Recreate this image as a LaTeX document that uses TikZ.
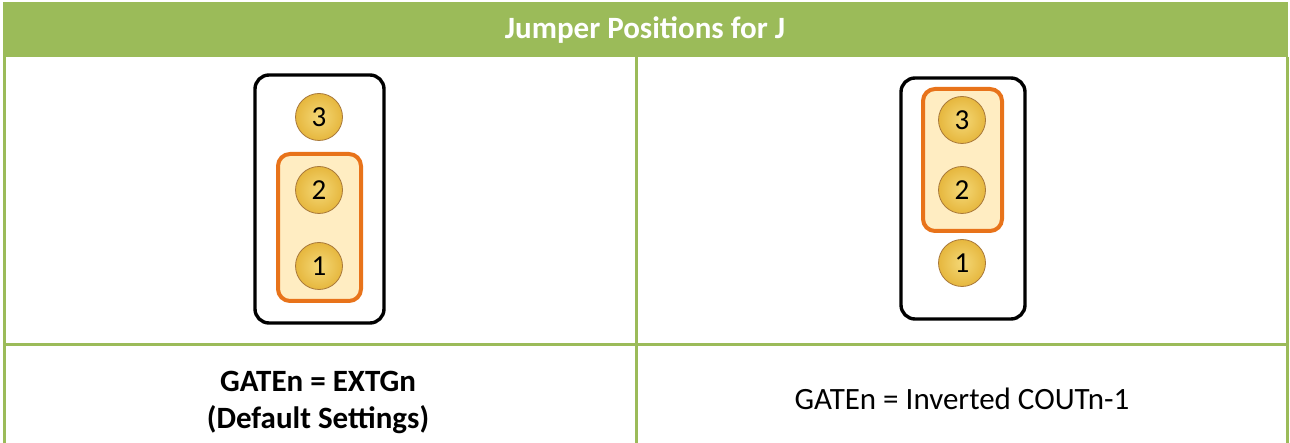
\documentclass[tikz,border=0pt]{standalone}
\usepackage{fontspec}
\setmainfont{Carlito}
\begin{document}
\begin{tikzpicture}[x=1pt,y=-1pt,
  grid/.style={draw=hdrgreen,line width=3pt},
  board/.style={draw=black,line width=3.4pt,rounded corners=14pt,fill=white},
  link/.style={draw=jorange,line width=4pt,rounded corners=12pt,fill=jfill},
  pin/.style={circle,draw=pinedge,line width=0.8pt,inner color=pinlight,outer color=pindark,
    minimum size=47pt,inner sep=0pt,font=\fontsize{29}{32}\selectfont},
  cell/.style={font=\fontsize{31}{36}\selectfont,align=center},
  boldcell/.style={font=\bfseries\fontsize{31}{36}\selectfont,align=center}]
\definecolor{hdrgreen}{HTML}{9BBB59}
\definecolor{jorange}{HTML}{E8731A}
\definecolor{jfill}{HTML}{FFEDC2}
\definecolor{pinedge}{HTML}{A8783A}
\definecolor{pinlight}{HTML}{F4D877}
\definecolor{pindark}{HTML}{E6B73E}
\useasboundingbox (0,0) rectangle (1290,443);
% table frame
\fill[hdrgreen] (3,2) rectangle (1288,57);
\node[boldcell,text=white] (title) at (645,30) {Jumper Positions for J};
\draw[grid] (4,57) -- (4,443);
\draw[grid] (636,57) -- (636,443);
\draw[grid] (1287,57) -- (1287,443);
\draw[grid] (3,345) -- (1288,345);
% left jumper: pins 1-2 shorted
\draw[board] (255,75) rectangle (384,323);
\draw[link] (278,154) rectangle (361,301);
\node[pin] (l3) at (319,117) {3};
\node[pin] (l2) at (319,190) {2};
\node[pin] (l1) at (319,266) {1};
% right jumper: pins 2-3 shorted
\draw[board] (901,78) rectangle (1025,319);
\draw[link] (923,89) rectangle (1002,231);
\node[pin] (r3) at (962,120) {3};
\node[pin] (r2) at (962,190) {2};
\node[pin] (r1) at (962,263) {1};
% captions
\node[boldcell] (lcap1) at (318,381) {GATEn = EXTGn};
\node[boldcell] (lcap2) at (318,420) {(Default Settings)};
\node[cell] (rcap) at (962,399) {GATEn = Inverted COUTn-1};
\end{tikzpicture}
\end{document}
